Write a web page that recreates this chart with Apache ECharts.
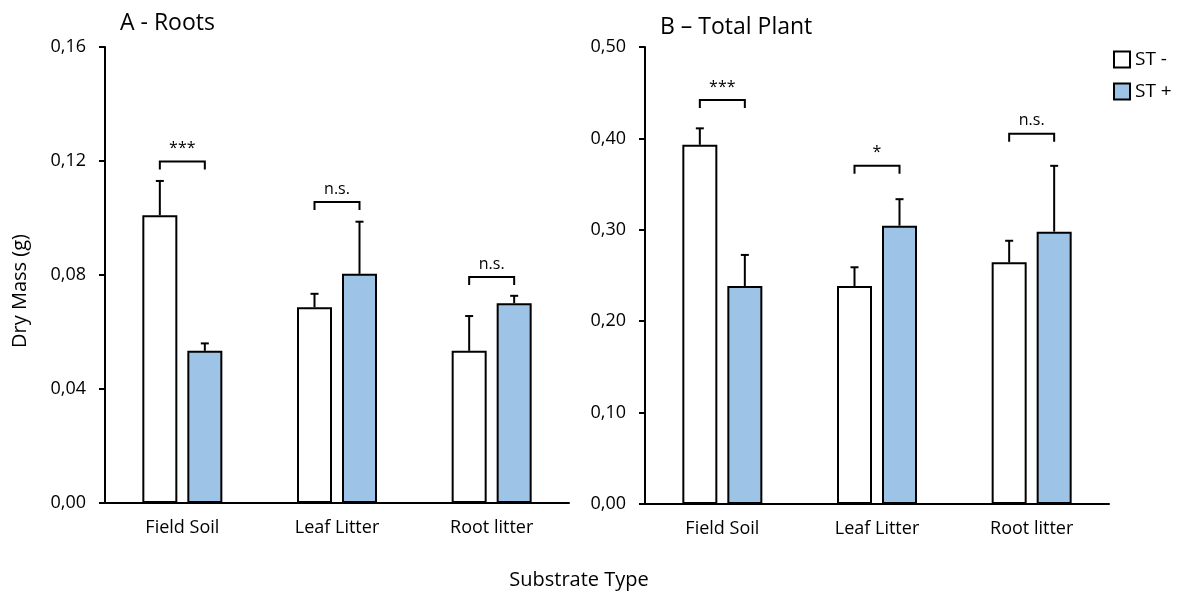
<!DOCTYPE html>
<html>
<head>
<meta charset="utf-8">
<script src="https://cdn.jsdelivr.net/npm/echarts@6/dist/echarts.min.js"></script>
<style>
  html, body { margin: 0; padding: 0; background: #fff; }
  #chart { width: 1180px; height: 594px; }
</style>
</head>
<body>
<div id="chart"></div>
<script>
// data
var categories = ['Field Soil', 'Leaf Litter', 'Root litter']

var rootsMinus = [0.1010, 0.0687, 0.0534]
var rootsMinusErr = [0.0120, 0.0047, 0.0122]
var rootsPlus = [0.0534, 0.0804, 0.0701]
var rootsPlusErr = [0.0026, 0.0183, 0.0026]
var rootsSig = ['***', 'n.s.', 'n.s.']
var rootsSigLevel = [0.1198, 0.1056, 0.0793]

var totalMinus = [0.3930, 0.2385, 0.2644]
var totalMinusErr = [0.0180, 0.0205, 0.0236]
var totalPlus = [0.2385, 0.3045, 0.2980]
var totalPlusErr = [0.0340, 0.0290, 0.0720]
var totalSig = ['***', '*', 'n.s.']
var totalSigLevel = [0.442, 0.370, 0.405]

var rootsTicks = { min: 0, max: 0.16, interval: 0.04 }
var totalTicks = { min: 0, max: 0.5, interval: 0.1 }

// styling
var FONT = 'Open Sans'
var BLUE = '#9dc3e6'
var BAR_W = 35
var BAR_GAP = 10
var OFFSET = (BAR_W + BAR_GAP) / 2

function fmt(v) {
  return v.toFixed(2).replace('.', ',')
}

function errorRender(shift) {
  return function(params, api) {
    var base = api.coord([api.value(0), api.value(1)])
    var top = api.coord([api.value(0), api.value(1) + api.value(2)])
    var x = base[0] + shift
    return {
      type: 'group',
      children: [
        { type: 'line', shape: { x1: x, y1: base[1], x2: x, y2: top[1] }, style: { stroke: '#000', lineWidth: 2 } },
        { type: 'line', shape: { x1: x - 4, y1: top[1], x2: x + 4, y2: top[1] }, style: { stroke: '#000', lineWidth: 2 } }
      ]
    }
  }
}

function bracketRender(labels) {
  return function(params, api) {
    var c = api.coord([api.value(0), api.value(1)])
    var x1 = c[0] - OFFSET
    var x2 = c[0] + OFFSET
    var y = c[1]
    return {
      type: 'group',
      children: [
        {
          type: 'polyline',
          shape: { points: [[x1, y + 8], [x1, y], [x2, y], [x2, y + 8]] },
          style: { stroke: '#000', lineWidth: 2, fill: null }
        },
        {
          type: 'text',
          x: c[0],
          y: y - 5,
          style: { text: labels[params.dataIndex], align: 'center', verticalAlign: 'bottom', fontSize: 16, fontFamily: FONT, fill: '#000' }
        }
      ]
    }
  }
}

function pairs(vals, errs) {
  return vals.map(function(v, i) { return [i, v, errs ? errs[i] : 0] })
}

function xAxisOpt(idx) {
  return {
    type: 'category',
    gridIndex: idx,
    data: categories,
    axisLine: { show: true, lineStyle: { color: '#000', width: 2 } },
    axisTick: { show: false },
    axisLabel: { color: '#000', fontSize: 18, fontFamily: FONT, margin: 16 }
  }
}

function yAxisOpt(idx, ticks) {
  return {
    type: 'value',
    gridIndex: idx,
    min: ticks.min,
    max: ticks.max,
    interval: ticks.interval,
    splitLine: { show: false },
    axisLine: { show: true, lineStyle: { color: '#000', width: 2 } },
    axisTick: { show: true, length: 6, lineStyle: { color: '#000', width: 2 } },
    axisLabel: { color: '#000', fontSize: 18, fontFamily: FONT, margin: 19, formatter: fmt }
  }
}

function panelSeries(idx, minus, minusErr, plus, plusErr, sig, sigLevel) {
  return [
    {
      name: 'ST -', type: 'bar', xAxisIndex: idx, yAxisIndex: idx,
      data: minus, barWidth: BAR_W, barGap: (BAR_GAP / BAR_W * 100) + '%',
      itemStyle: { color: '#fff', borderColor: '#000', borderWidth: 2 }
    },
    {
      name: 'ST +', type: 'bar', xAxisIndex: idx, yAxisIndex: idx,
      data: plus, barWidth: BAR_W, barGap: (BAR_GAP / BAR_W * 100) + '%',
      itemStyle: { color: BLUE, borderColor: '#000', borderWidth: 2 }
    },
    {
      type: 'custom', xAxisIndex: idx, yAxisIndex: idx, z: 3,
      renderItem: errorRender(-OFFSET), data: pairs(minus, minusErr)
    },
    {
      type: 'custom', xAxisIndex: idx, yAxisIndex: idx, z: 3,
      renderItem: errorRender(OFFSET), data: pairs(plus, plusErr)
    },
    {
      type: 'custom', xAxisIndex: idx, yAxisIndex: idx, z: 3,
      renderItem: bracketRender(sig), data: pairs(sigLevel)
    }
  ]
}

var chart = echarts.init(document.getElementById('chart'))
chart.setOption({
  animation: false,
  backgroundColor: '#fff',
  textStyle: { fontFamily: FONT },
  title: [
    { text: 'A - Roots', left: 115, top: 7, textStyle: { fontSize: 23, fontWeight: 'normal', color: '#000', fontFamily: FONT } },
    { text: 'B – Total Plant', left: 655, top: 11, textStyle: { fontSize: 23, fontWeight: 'normal', color: '#000', fontFamily: FONT } }
  ],
  legend: {
    data: ['ST -', 'ST +'],
    orient: 'vertical',
    left: 1108,
    top: 45,
    icon: 'rect',
    itemWidth: 16,
    itemHeight: 16,
    itemGap: 13,
    textStyle: { fontSize: 19, color: '#000', fontFamily: FONT }
  },
  grid: [
    { left: 105, top: 47, width: 464, height: 456 },
    { left: 645, top: 47, width: 464, height: 457 }
  ],
  xAxis: [xAxisOpt(0), xAxisOpt(1)],
  yAxis: [yAxisOpt(0, rootsTicks), yAxisOpt(1, totalTicks)],
  graphic: [
    {
      type: 'text', x: 20, y: 291, rotation: Math.PI / 2,
      style: { text: 'Dry Mass (g)', align: 'center', verticalAlign: 'middle', fontSize: 20, fontFamily: FONT, fill: '#000' }
    },
    {
      type: 'text', x: 579, y: 580,
      style: { text: 'Substrate Type', align: 'center', verticalAlign: 'middle', fontSize: 20, fontFamily: FONT, fill: '#000' }
    }
  ],
  series: panelSeries(0, rootsMinus, rootsMinusErr, rootsPlus, rootsPlusErr, rootsSig, rootsSigLevel)
    .concat(panelSeries(1, totalMinus, totalMinusErr, totalPlus, totalPlusErr, totalSig, totalSigLevel))
})
</script>
</body>
</html>
